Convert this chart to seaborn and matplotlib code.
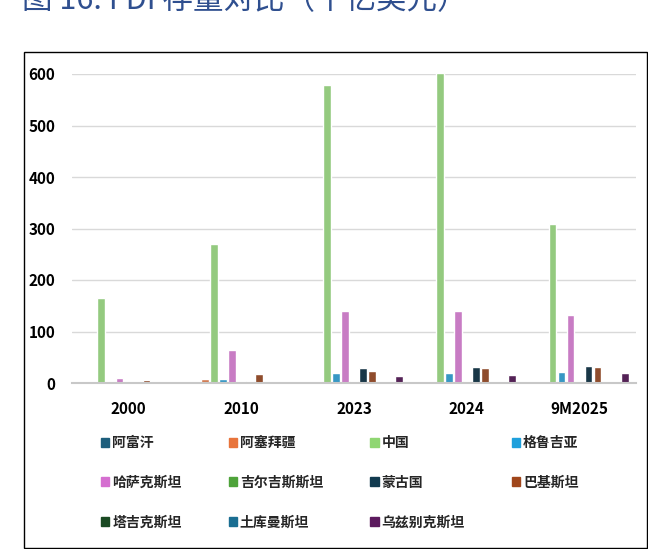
import matplotlib
matplotlib.use("Agg")
import matplotlib.pyplot as plt
import matplotlib.patches as mpatches
import seaborn as sns
import pandas as pd

# ---- data ----
periods = ["2000", "2010", "2023", "2024", "9M2025"]
countries = ["阿富汗", "阿塞拜疆", "中国", "格鲁吉亚", "哈萨克斯坦", "吉尔吉斯斯坦",
             "蒙古国", "巴基斯坦", "塔吉克斯坦", "土库曼斯坦", "乌兹别克斯坦"]
afghanistan = [0, 0, 0, 0, 0]
azerbaijan = [0, 8, 0, 0, 0]
china = [165, 270, 578, 601, 309]
georgia = [0, 7, 20, 19, 22]
kazakhstan = [9, 65, 139, 139, 133]
kyrgyzstan = [0, 0, 3, 3, 0]
mongolia = [0, 4, 29, 31, 33]
pakistan = [6, 18, 24, 29, 31]
tajikistan = [0, 0, 2, 2, 2]
turkmenistan = [0, 0, 0, 0, 0]
uzbekistan = [0, 2, 14, 16, 20]
colors = ["#1d5e7c", "#e8743b", "#8fd672", "#1fa0dc", "#d56fd0", "#4ea33a",
          "#113a4f", "#a0461b", "#1a4a23", "#1a6e92", "#5c1a5e"]
yticks = [0, 100, 200, 300, 400, 500, 600]
title = "图 16: FDI 存量对比（十亿美元）"

series = [afghanistan, azerbaijan, china, georgia, kazakhstan, kyrgyzstan,
          mongolia, pakistan, tajikistan, turkmenistan, uzbekistan]
rows = []
for c, vals in zip(countries, series):
    for p, v in zip(periods, vals):
        rows.append({"period": p, "country": c, "value": v})
df = pd.DataFrame(rows)

sns.set_theme(style="white")
plt.rcParams["font.family"] = ["Noto Sans CJK SC", "DejaVu Sans"]

fig = plt.figure(figsize=(6.48, 5.49), dpi=100)
ax = fig.add_axes([72 / 648, 1 - 383 / 549, 564 / 648, 309 / 549])

sns.barplot(data=df, x="period", y="value", hue="country", order=periods,
            hue_order=countries, palette=colors, width=0.88, gap=0.15,
            errorbar=None, ax=ax, legend=False)
for p in ax.patches:
    p.set_clip_on(False)

ax.set_ylim(0, 600)
ax.set_yticks(yticks)
ax.set_xlabel("")
ax.set_ylabel("")
ax.yaxis.grid(True, color="#d9d9d9", linewidth=1)
ax.set_axisbelow(True)
for s in ["top", "right", "left"]:
    ax.spines[s].set_visible(False)
ax.spines["bottom"].set_color("#c8c8c8")
ax.spines["bottom"].set_linewidth(1.5)
ax.tick_params(axis="x", length=0, pad=13, labelsize=11)
ax.tick_params(axis="y", length=0, pad=12, labelsize=11)
for lab in ax.get_xticklabels() + ax.get_yticklabels():
    lab.set_fontweight("bold")
    lab.set_color("black")

# legend (matplotlib fills column-first, so reorder for row-wise layout)
handles = [mpatches.Patch(color=col, label=c) for c, col in zip(countries, colors)]
order = [0, 4, 8, 1, 5, 9, 2, 6, 10, 3, 7]
leg = fig.legend([handles[i] for i in order], [countries[i] for i in order],
                 ncol=4, loc="upper left", bbox_to_anchor=(101 / 648, 1 - 436 / 549),
                 frameon=False, handlelength=0.6, handleheight=0.6,
                 handletextpad=0.2, columnspacing=3.4, labelspacing=1.85,
                 borderpad=0, borderaxespad=0,
                 prop={"size": 10, "weight": "heavy"})

# outer frame
fig.patches.append(mpatches.Rectangle((24 / 648, 1 / 549), 623 / 648, 496 / 549,
                                      transform=fig.transFigure, fill=False,
                                      edgecolor="black", linewidth=1))

# title (cut off at the top edge, as in the reference)
fig.text(22 / 648, 1 - 1 / 549, title, fontsize=22, color="#2f4f8f",
         va="center", ha="left", family=["Noto Sans CJK SC", "DejaVu Sans"])

fig.savefig("out.png", dpi=100)
